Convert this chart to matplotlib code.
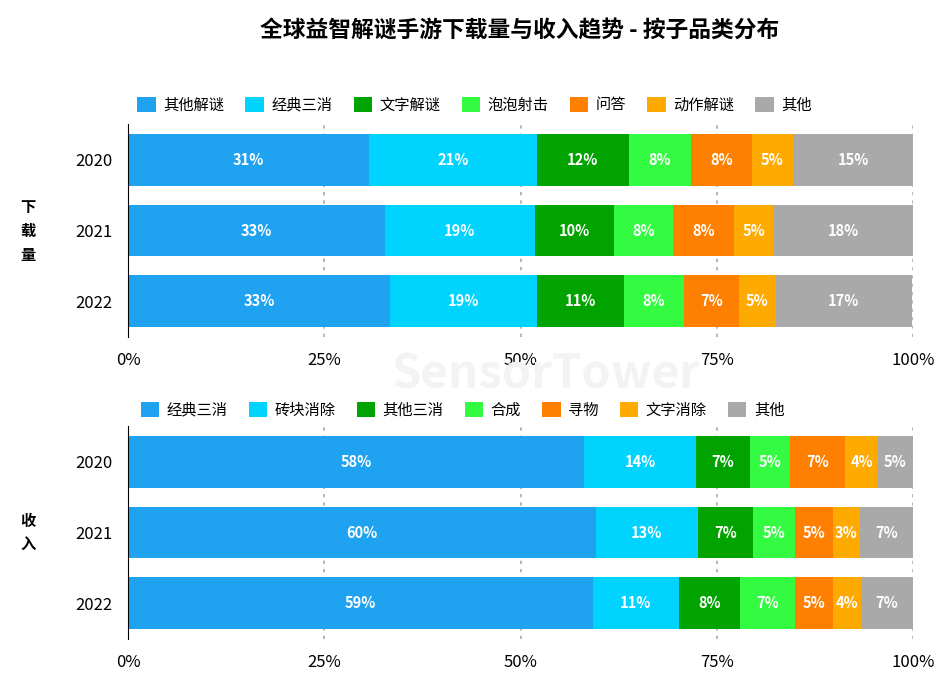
import matplotlib.pyplot as plt
from matplotlib.patches import Patch

plt.rcParams['font.family'] = ['Noto Sans CJK SC', 'DejaVu Sans']

years = ['2020', '2021', '2022']

dl_cats = ['其他解谜', '经典三消', '文字解谜', '泡泡射击', '问答', '动作解谜', '其他']
dl_vals = [
    [30.7, 32.7, 33.4],
    [21.4, 19.1, 18.7],
    [11.7, 10.1, 11.1],
    [7.9, 7.5, 7.6],
    [7.8, 7.8, 7.0],
    [5.2, 5.0, 4.7],
    [15.3, 17.8, 17.4],
]

rev_cats = ['经典三消', '砖块消除', '其他三消', '合成', '寻物', '文字消除', '其他']
rev_vals = [
    [58.1, 59.6, 59.2],
    [14.3, 13.0, 11.0],
    [6.8, 7.0, 7.8],
    [5.1, 5.4, 7.0],
    [7.1, 4.8, 4.8],
    [4.1, 3.4, 3.6],
    [4.6, 6.8, 6.6],
]

colors = ['#1fa2ef', '#00d4fe', '#00a300', '#33fb41', '#ff7f00', '#ffaa00', '#a9a9a9']
xticks = [0, 25, 50, 75, 100]


def draw_panel(ax, cats, vals, leg_x, leg_y):
    left = [0, 0, 0]
    ypos = range(len(years))
    for i, cat in enumerate(cats):
        bars = ax.barh(ypos, vals[i], left=left, height=0.73, color=colors[i], zorder=2)
        labels = [f'{round(v)}%' for v in vals[i]]
        ax.bar_label(bars, labels=labels, label_type='center', color='white',
                     fontsize=10.5, fontweight='bold')
        left = [a + b for a, b in zip(left, vals[i])]

    ax.set_xlim(0, 100)
    ax.set_ylim(2.51, -0.51)
    ax.set_yticks(list(ypos))
    ax.set_yticklabels(years)
    ax.set_xticks(xticks)
    ax.set_xticklabels([f'{t}%' for t in xticks])
    ax.tick_params(axis='both', length=0, labelsize=12)
    ax.tick_params(axis='x', pad=11)
    ax.tick_params(axis='y', pad=11)
    ax.grid(axis='x', linestyle=(0, (2, 3)), color='#aaaaaa', linewidth=1.2, zorder=0)
    for s in ['top', 'right', 'bottom']:
        ax.spines[s].set_visible(False)
    ax.spines['left'].set_color('black')

    handles = [Patch(facecolor=c, edgecolor='none') for c in colors]
    ax.legend(handles, cats, ncol=7, frameon=False, loc='center left',
              bbox_to_anchor=(leg_x, leg_y), borderaxespad=0, borderpad=0,
              handlelength=1.2, handleheight=1.2, handletextpad=0.5,
              columnspacing=1.38, fontsize=11)


fig = plt.figure(figsize=(9.5, 6.76), dpi=100)
ax1 = fig.add_axes([128 / 950, 1 - 337 / 676, 785 / 950, 213 / 676])
ax2 = fig.add_axes([128 / 950, 1 - 639 / 676, 785 / 950, 213 / 676])

draw_panel(ax1, dl_cats, dl_vals, 0.012, 1 + 19 / 213)
draw_panel(ax2, rev_cats, rev_vals, 0.016, 1 + 16 / 213)

fig.text(520 / 950, 1 - 30 / 676, '全球益智解谜手游下载量与收入趋势 - 按子品类分布',
         ha='center', va='center', fontsize=16.4, fontweight='bold')
fig.text(28 / 950, 1 - 231 / 676, '下\n载\n量', ha='center', va='center',
         fontsize=11, fontweight='bold', linespacing=1.6)
fig.text(28 / 950, 1 - 533 / 676, '收\n入', ha='center', va='center',
         fontsize=11, fontweight='bold', linespacing=1.6)

# faint watermark
fig.text(545 / 950, 1 - 374 / 676, 'SensorTower', ha='center', va='center',
         fontsize=34, color='#f3f3f3', fontweight='bold', zorder=0)

fig.savefig('out.png', dpi=100)
